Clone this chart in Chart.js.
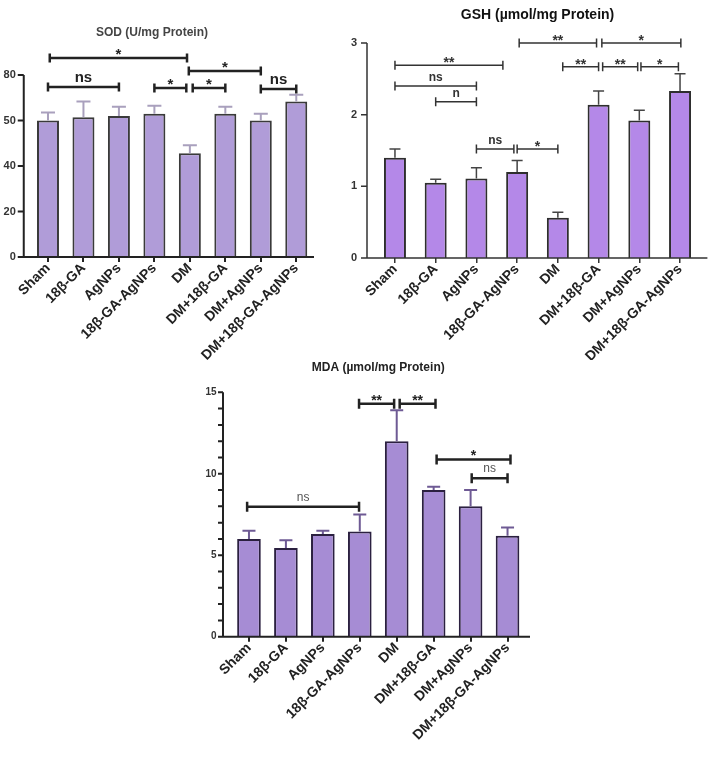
<!DOCTYPE html>
<html>
<head>
<meta charset="utf-8">
<script src="https://cdn.jsdelivr.net/npm/chart.js@4.4.1/dist/chart.umd.min.js"></script>
<style>
  body { margin: 0; background: #fff; width: 708px; height: 759px; position: relative; overflow: hidden; }
  canvas { position: absolute; }
</style>
</head>
<body>
<canvas id="sod" style="left:-10px;top:0px" width="325" height="380"></canvas>
<canvas id="gsh" style="left:335px;top:0px" width="373" height="360"></canvas>
<canvas id="mda" style="left:190px;top:350px" width="345" height="409"></canvas>
<script>
// groups shared by the three panels
const groups = ["Sham", "18β-GA", "AgNPs", "18β-GA-AgNPs", "DM", "DM+18β-GA", "DM+AgNPs", "DM+18β-GA-AgNPs"];

// SOD
const sodMean = [60, 61.4, 62, 63, 45.6, 63, 60, 68.3];
const sodErr = [3.5, 7, 4, 3.5, 3.5, 3, 3, 3];
const sodTickValues = [0, 20, 40, 60, 80];
const sodTickText = ["0", "20", "40", "50", "80"];
// [from group, to group, height, label]
const sodSig = [
    [0.05, 3.92, 87.5, "*"],
    [0, 2, 74.7, "ns"],
    [3, 3.9, 74.3, "*"],
    [3.97, 6, 81.8, "*"],
    [4.08, 5, 74.3, "*"],
    [6, 7, 73.8, "ns"]
];

// GSH
const gshMean = [1.40, 1.05, 1.11, 1.20, 0.56, 2.14, 1.92, 2.33];
const gshErr = [0.12, 0.05, 0.15, 0.16, 0.08, 0.19, 0.14, 0.24];
const gshTickValues = [0, 1, 2, 3];
const gshSig = [
    [0, 2.65, 2.69, "**"],
    [0, 2, 2.40, "ns"],
    [1, 2, 2.18, "n"],
    [2, 2.92, 1.52, "ns"],
    [3, 4, 1.52, "*"],
    [3.05, 4.95, 3.0, "**"],
    [5.08, 7.02, 3.0, "*"],
    [4.12, 5.0, 2.67, "**"],
    [5.1, 5.96, 2.67, "**"],
    [6.04, 6.96, 2.67, "*"]
];

// MDA
const mdaMean = [6.0, 5.45, 6.3, 6.45, 12.0, 9.0, 8.0, 6.2];
const mdaErr = [0.5, 0.47, 0.2, 1.05, 1.9, 0.2, 1.0, 0.5];
const mdaTickValues = [0, 5, 10, 15];
const mdaSig = [
    [-0.05, 2.98, 7.98, "ns"],
    [2.98, 3.93, 14.3, "**"],
    [4.08, 5.05, 14.3, "**"],
    [5.08, 7.08, 10.88, "*"],
    [6.03, 7.0, 9.72, "ns"]
];

Chart.defaults.font.family = "'Liberation Sans', Arial, sans-serif";
Chart.defaults.animation = false;

// error bars, offset axes and significance brackets
const sigPlugin = {
    id: 'sig',
    afterDatasetsDraw(chart, args, o) {
        const ctx = chart.ctx, xs = chart.scales.x, ys = chart.scales.y, area = chart.chartArea;
        const vals = chart.data.datasets[0].data;
        const meta = chart.getDatasetMeta(0);
        ctx.save();

        ctx.strokeStyle = o.errColor;
        ctx.lineWidth = o.errWidth;
        meta.data.forEach(function (bar, i) {
            const top = ys.getPixelForValue(vals[i] + o.err[i]);
            ctx.beginPath();
            ctx.moveTo(bar.x, bar.y);
            ctx.lineTo(bar.x, top);
            ctx.moveTo(bar.x - o.cap / 2, top);
            ctx.lineTo(bar.x + o.cap / 2, top);
            ctx.stroke();
        });

        const ax = area.left - o.gap;
        ctx.strokeStyle = o.axisColor;
        ctx.lineWidth = o.axisWidth;
        ctx.beginPath();
        ctx.moveTo(ax, ys.getPixelForValue(ys.max));
        ctx.lineTo(ax, area.bottom);
        ctx.lineTo(area.right + o.xExtra, area.bottom);
        ys.ticks.forEach(function (t) {
            const p = ys.getPixelForValue(t.value);
            ctx.moveTo(ax - o.tick, p);
            ctx.lineTo(ax, p);
        });
        ctx.stroke();

        const p0 = xs.getPixelForValue(0);
        const step = xs.getPixelForValue(1) - p0;
        ctx.strokeStyle = o.sigColor;
        ctx.lineWidth = o.sigWidth;
        ctx.textAlign = 'center';
        ctx.textBaseline = 'alphabetic';
        o.sig.forEach(function (s) {
            const a = p0 + s[0] * step, b = p0 + s[1] * step, y = ys.getPixelForValue(s[2]);
            ctx.beginPath();
            ctx.moveTo(a, y); ctx.lineTo(b, y);
            ctx.moveTo(a, y - o.end); ctx.lineTo(a, y + o.end);
            ctx.moveTo(b, y - o.end); ctx.lineTo(b, y + o.end);
            ctx.stroke();
            const star = s[3].indexOf('*') >= 0;
            ctx.font = star ? o.starFont : o.nsFont;
            ctx.fillStyle = star ? o.sigColor : o.nsColor;
            ctx.fillText(s[3], (a + b) / 2, y - (star ? o.starLift : o.nsLift));
        });
        ctx.restore();
    }
};

function makeChart(id, cfg) {
    return new Chart(id, {
        type: 'bar',
        data: {
            labels: groups,
            datasets: [{
                data: cfg.mean,
                backgroundColor: cfg.fill,
                borderColor: cfg.border,
                borderWidth: 2,
                barPercentage: cfg.barPct,
                categoryPercentage: 1
            }]
        },
        options: {
            responsive: false,
            layout: { padding: { left: 0, right: cfg.padRight, top: 0, bottom: 0 } },
            plugins: {
                legend: { display: false },
                tooltip: { enabled: false },
                title: {
                    display: true,
                    text: cfg.title,
                    fullSize: cfg.titleFull,
                    color: cfg.titleColor,
                    font: { size: cfg.titleSize, weight: 'bold' },
                    padding: cfg.titlePad
                },
                sig: cfg.sig
            },
            scales: {
                x: {
                    offset: true,
                    grid: { display: true, drawOnChartArea: false, drawTicks: true, tickLength: 5, offset: false, color: cfg.axisColor, lineWidth: cfg.sig.axisWidth },
                    border: { display: false },
                    ticks: { minRotation: 45, maxRotation: 45, autoSkip: false, padding: -2, color: '#222', font: { size: 14, weight: 'bold' } },
                    afterFit: function (s) { s.height = cfg.xHeight; }
                },
                y: {
                    min: cfg.yMin, max: cfg.yMax,
                    grid: { display: false, drawTicks: false },
                    border: { display: false },
                    ticks: {
                        stepSize: cfg.yStep,
                        padding: cfg.yPad,
                        color: '#333',
                        font: { size: cfg.yFont, weight: 'bold' },
                        callback: cfg.yLabel
                    },
                    afterFit: function (s) { s.width = cfg.yWidth; }
                }
            }
        },
        plugins: [sigPlugin]
    });
}

makeChart('sod', {
    mean: sodMean, fill: '#b09cd8', border: '#3a3a3a', barPct: 0.62,
    padRight: 1, title: 'SOD (U/mg Protein)', titleFull: true, titleColor: '#444', titleSize: 12,
    titlePad: { top: 25, bottom: 35.6 }, axisColor: '#222',
    xHeight: 123, yMin: 0, yMax: 80, yStep: 20, yPad: 14.5, yFont: 11, yWidth: 40.25,
    yLabel: function (v) { const k = sodTickValues.indexOf(v); return k >= 0 ? sodTickText[k] : ''; },
    sig: {
        err: sodErr, errColor: '#a9a0bd', errWidth: 2, cap: 14,
        gap: 6.5, axisColor: '#222', axisWidth: 2, tick: 6, xExtra: 0,
        sig: sodSig, sigColor: '#222', sigWidth: 2.5, end: 4.5,
        starFont: 'bold 15px "Liberation Sans"', nsFont: 'bold 15px "Liberation Sans"', nsColor: '#222',
        starLift: -1, nsLift: 5
    }
});

makeChart('gsh', {
    mean: gshMean, fill: '#b488e8', border: '#2e2e2e', barPct: 0.54,
    padRight: 7.6, title: 'GSH (µmol/mg Protein)', titleFull: false, titleColor: '#111', titleSize: 14,
    titlePad: { top: 6.6, bottom: 19.6 }, axisColor: '#333',
    xHeight: 102, yMin: 0, yMax: 3, yStep: 1, yPad: 17.6, yFont: 11, yWidth: 39.6,
    yLabel: function (v) { return gshTickValues.indexOf(v) >= 0 ? String(v) : ''; },
    sig: {
        err: gshErr, errColor: '#444', errWidth: 1.5, cap: 11,
        gap: 7.6, axisColor: '#333', axisWidth: 1.5, tick: 6, xExtra: 7,
        sig: gshSig, sigColor: '#333', sigWidth: 1.5, end: 4.5,
        starFont: 'bold 14px "Liberation Sans"', nsFont: 'bold 12px "Liberation Sans"', nsColor: '#333',
        starLift: -2, nsLift: 5
    }
});

makeChart('mda', {
    mean: mdaMean, fill: '#a68cd4', border: '#2b2040', barPct: 0.64,
    padRight: 9, title: 'MDA (µmol/mg Protein)', titleFull: false, titleColor: '#222', titleSize: 12,
    titlePad: { top: 10.8, bottom: 17.1 }, axisColor: '#222',
    xHeight: 122.3, yMin: 0, yMax: 15, yStep: 1, yPad: 14, yFont: 10, yWidth: 40.5,
    yLabel: function (v) { return mdaTickValues.indexOf(v) >= 0 ? String(v) : ''; },
    sig: {
        err: mdaErr, errColor: '#6e5a94', errWidth: 2, cap: 13,
        gap: 7.5, axisColor: '#222', axisWidth: 2, tick: 5, xExtra: 4,
        sig: mdaSig, sigColor: '#222', sigWidth: 2.5, end: 5,
        starFont: 'bold 14px "Liberation Sans"', nsFont: '12px "Liberation Sans"', nsColor: '#555',
        starLift: -1, nsLift: 6
    }
});
</script>
</body>
</html>
